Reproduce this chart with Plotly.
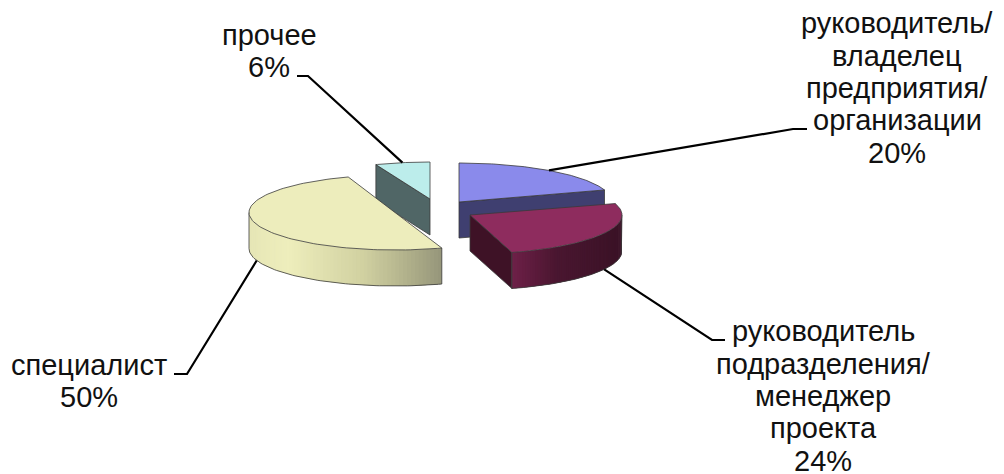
import math
import numpy as np
import plotly.graph_objects as go

# ---- data (clockwise from 12 o'clock) ----
categories = [["руководитель/", "владелец", "предприятия/", "организации"],
              ["руководитель", "подразделения/", "менеджер", "проекта"],
              ["специалист"],
              ["прочее"]]
values = [20, 24, 50, 6]

# ---- styling / layout ----
W, H = 1004, 474
DEPTH = 36
centers = [(459, 202), (470, 215), (395, 212.5), (430, 199)]
radii = [(153, 39), (152, 39), (146, 37.5), (147, 37)]
# small corrections of the drawn angle per slice (start, end): Excel's perspective
view_tweak = [(0, 0), (0, 5.6), (2.9, 2.9), (0, 0)]
top_colors = ["#8a8aeb", "#8e2c5e", "#ededbc", "#bcedeb"]
wall_colors = ["#3f3f70", "#3e1226", "#9a9a78", "#506666"]
side_stops = [None,
              [(0.0, "#6e2048"), (0.4, "#4a1630"), (1.0, "#3a1226")],
              [(0.0, "#e6e6b6"), (0.2, "#eeeebc"), (0.6, "#d0d0a0"), (1.0, "#96967a")],
              None]
label_pos = [(897, 88), (823, 396), (89, 381), (269, 51)]
elbow = [((807, 129), (793, 129)), ((725, 340), (712, 340)),
         ((174, 374), (187, 374)), ((297, 76), (308, 76))]
leader_on_side = [False, True, True, False]
FONT = "Liberation Sans, Arial, sans-serif"
FONT_SIZE = 29
LINE_STEP = 32.4
EDGE = "#3a3a3a"
draw_order = [3, 0, 2, 1]


def hex_rgb(c):
    return [int(c[i:i + 2], 16) for i in (1, 3, 5)]


def stop_color(stops, f):
    for (a, ca), (b, cb) in zip(stops, stops[1:]):
        if f <= b:
            k = (f - a) / (b - a) if b > a else 0
            rgb = [round(u + (v - u) * k) for u, v in zip(hex_rgb(ca), hex_rgb(cb))]
            return "rgb({},{},{})".format(*rgb)
    return stops[-1][1]


def point(i, deg, down=0):
    cx, cy = centers[i]
    rx, ry = radii[i]
    t = math.radians(deg)
    return cx + rx * math.sin(t), cy - ry * math.cos(t) + down


def poly(xs, ys, fill, line=None, width=0.8):
    return go.Scatter(x=xs, y=ys, mode="lines", fill="toself", fillcolor=fill,
                      line=dict(color=line or fill, width=width),
                      hoverinfo="skip", showlegend=False)


total = sum(values)
angles = []
acc = 0
for i, v in enumerate(values):
    a0 = acc / total * 360 + view_tweak[i][0]
    a1 = (acc + v) / total * 360 + view_tweak[i][1]
    angles.append((a0, a1))
    acc += v

fig = go.Figure()
for i in draw_order:
    a0, a1 = angles[i]
    cx, cy = centers[i]
    # flat walls of the cut, visible for the slices whose cut faces the viewer
    if i in (0, 1):
        x1, y1 = point(i, a1 if i == 0 else a0)
        if i == 1:
            x1, y1 = point(i, a1)
        fig.add_trace(poly([cx, x1, x1, cx, cx], [cy, y1, y1 + DEPTH, cy + DEPTH, cy],
                           wall_colors[i], EDGE))
    if i == 3:
        x0, y0 = point(i, a0)
        fig.add_trace(poly([x0, cx, cx, x0, x0], [y0, cy, cy + DEPTH, y0 + DEPTH, y0],
                           wall_colors[i], EDGE))
    # curved side with a gradient: each strip overlaps the next one to hide seams
    if side_stops[i]:
        s0, s1 = max(a0, 90), min(a1, 270)
        edges = np.linspace(s0, s1, 71)
        xs_all = [point(i, e)[0] for e in edges]
        lo, hi = min(xs_all), max(xs_all)
        for k in range(len(edges) - 1):
            e0, e1 = edges[k], edges[min(k + 2, len(edges) - 1)]
            mid_arc = np.linspace(e0, e1, 4)
            up = [point(i, e) for e in mid_arc]
            xs = [p[0] for p in up] + [p[0] for p in reversed(up)] + [up[0][0]]
            ys = [p[1] for p in up] + [p[1] + DEPTH for p in reversed(up)] + [up[0][1]]
            f = ((point(i, edges[k])[0] + point(i, edges[k + 1])[0]) / 2 - lo) / (hi - lo)
            fig.add_trace(go.Scatter(x=xs, y=ys, mode="none", fill="toself",
                                     fillcolor=stop_color(side_stops[i], f),
                                     hoverinfo="skip", showlegend=False))
        arc = np.linspace(s0, s1, 80)
        px = [point(i, e)[0] for e in arc]
        py = [point(i, e)[1] + DEPTH for e in arc]
        ex = [point(i, s0)[0]] + px + [point(i, s1)[0]]
        ey = [point(i, s0)[1]] + py + [point(i, s1)[1]]
        fig.add_trace(go.Scatter(x=ex, y=ey, mode="lines", line=dict(color=EDGE, width=0.8),
                                 hoverinfo="skip", showlegend=False))
    # top face
    arc = np.linspace(a0, a1, 100)
    tx = [cx] + [point(i, e)[0] for e in arc] + [cx]
    ty = [cy] + [point(i, e)[1] for e in arc] + [cy]
    fig.add_trace(poly(tx, ty, top_colors[i], EDGE))

# leader lines and labels (one text per line: the reference's line spacing is tight)
annotations = []
for i, cat in enumerate(categories):
    mid = sum(angles[i]) / 2
    ex, ey = point(i, mid, DEPTH if leader_on_side[i] else 0)
    (ax, ay), (bx, by) = elbow[i]
    fig.add_trace(go.Scatter(x=[ax, bx, ex], y=[ay, by, ey], mode="lines",
                             line=dict(color="#000000", width=2.2),
                             hoverinfo="skip", showlegend=False))
    lx, ly = label_pos[i]
    lines = cat + [f"{values[i]}%"]
    for n, text in enumerate(lines):
        annotations.append(dict(x=lx, y=ly + (n - (len(lines) - 1) / 2) * LINE_STEP,
                                xref="x", yref="y", showarrow=False, text=text,
                                xanchor="center", yanchor="middle",
                                font=dict(family=FONT, size=FONT_SIZE, color="#111111")))

fig.update_layout(
    width=W, height=H, margin=dict(l=0, r=0, t=0, b=0),
    paper_bgcolor="white", plot_bgcolor="white", showlegend=False,
    xaxis=dict(range=[0, W], visible=False, fixedrange=True),
    yaxis=dict(range=[H, 0], visible=False, fixedrange=True),
    annotations=annotations,
)
fig.write_html("out.html", config=dict(displayModeBar=False),
               post_script="document.body.style.margin='0';")
